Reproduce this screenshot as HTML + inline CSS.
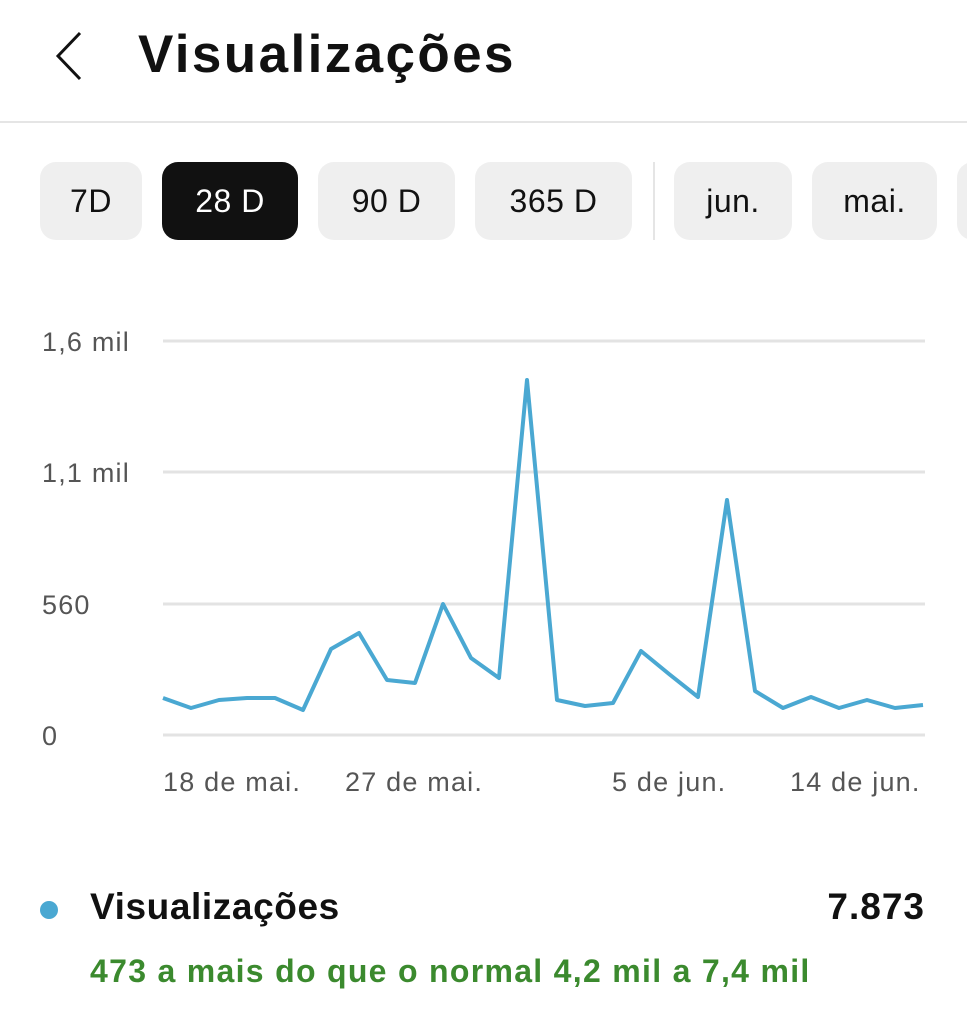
<!DOCTYPE html>
<html><head><meta charset="utf-8"><style>
body{margin:0;width:967px;height:1024px;background:#fff;font-family:"Liberation Sans",sans-serif;overflow:hidden;position:relative}
.t{position:absolute;white-space:nowrap}
.btn{position:absolute;top:162px;height:78px;border-radius:16px;background:#efefef;font-size:32px;line-height:78px;text-align:center;color:#111;letter-spacing:0.5px}
.ax{font-size:27px;color:#555;letter-spacing:1.2px}
</style></head><body>
<svg class="t" style="left:50px;top:30px" width="40" height="52"><polyline points="30,3 8,26 30,49" fill="none" stroke="#111" stroke-width="3"/></svg>
<div class="t" style="left:138px;top:24px;font-size:53px;font-weight:bold;color:#111;letter-spacing:2.4px">Visualizações</div>
<div class="t" style="left:0;top:121px;width:967px;height:2px;background:#e5e5e5"></div>
<div class="btn" style="left:40px;width:102px">7D</div>
<div class="btn" style="left:162px;width:136px;background:#111;color:#fff">28 D</div>
<div class="btn" style="left:318px;width:137px">90 D</div>
<div class="btn" style="left:475px;width:157px">365 D</div>
<div class="t" style="left:653px;top:162px;width:2px;height:78px;background:#e5e5e5"></div>
<div class="btn" style="left:674px;width:118px">jun.</div>
<div class="btn" style="left:812px;width:125px">mai.</div>
<div class="btn" style="left:957px;width:40px"></div>
<svg class="t" style="left:0;top:0" width="967" height="1024">
<g stroke="#e3e3e3" stroke-width="3"><line x1="163" y1="341" x2="925" y2="341"/><line x1="163" y1="472" x2="925" y2="472"/><line x1="163" y1="604" x2="925" y2="604"/><line x1="163" y1="735" x2="925" y2="735"/></g>
<polyline fill="none" stroke="#4aa8d2" stroke-width="4" stroke-linejoin="round" points="163,698 191,708 219,700 247,698 275,698 303,710 331,649 359,633 387,680 415,683 443,604 471,658 499,678 527,380 557,700 585,706 613,703 641,651 669,674 698,697 727,500 755,691 783,708 811,697 839,708 867,700 895,708 923,705"/>
</svg>
<div class="t ax" style="left:42px;top:327px">1,6 mil</div>
<div class="t ax" style="left:42px;top:458px">1,1 mil</div>
<div class="t ax" style="left:42px;top:590px">560</div>
<div class="t ax" style="left:42px;top:721px">0</div>
<div class="t ax" style="left:163px;top:767px">18 de mai.</div>
<div class="t ax" style="left:345px;top:767px">27 de mai.</div>
<div class="t ax" style="left:612px;top:767px">5 de jun.</div>
<div class="t ax" style="left:790px;top:767px">14 de jun.</div>
<div class="t" style="left:40px;top:901px;width:18px;height:18px;border-radius:50%;background:#4aa8d2"></div>
<div class="t" style="left:90px;top:886px;font-size:37px;font-weight:bold;color:#111;letter-spacing:0.6px">Visualizações</div>
<div class="t" style="right:42px;top:886px;font-size:37px;font-weight:bold;color:#111;letter-spacing:1px">7.873</div>
<div class="t" style="left:90px;top:953px;font-size:32px;font-weight:bold;color:#3b8a2e;letter-spacing:1.3px">473 a mais do que o normal 4,2 mil a 7,4 mil</div>
</body></html>
